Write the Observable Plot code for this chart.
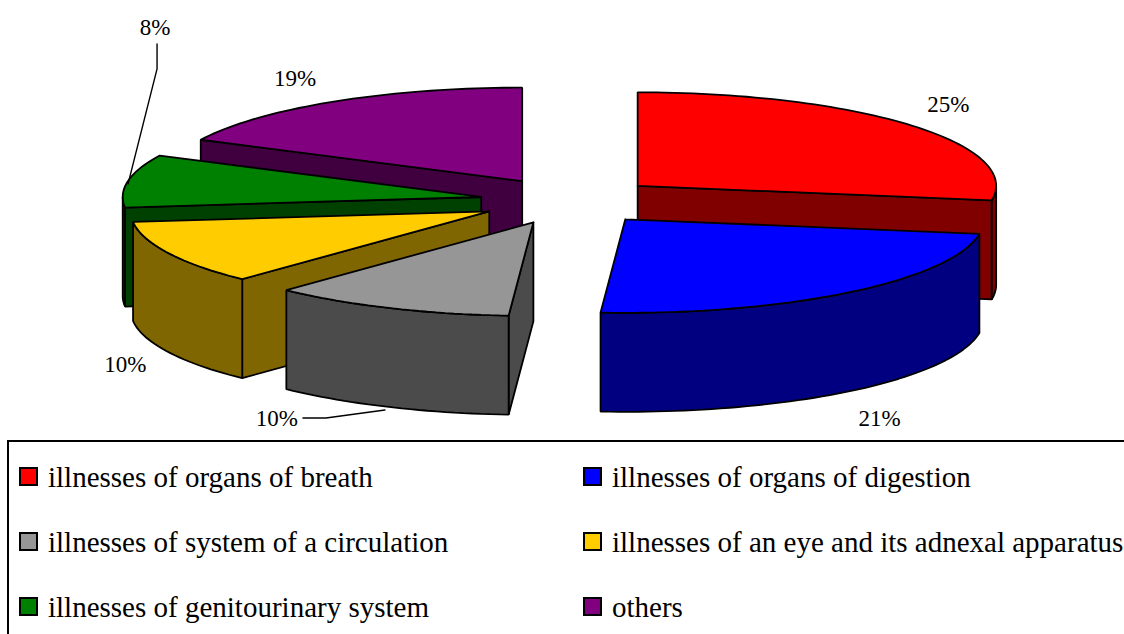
<!DOCTYPE html>
<html><head><meta charset="utf-8">
<script src="https://cdn.jsdelivr.net/npm/d3@7"></script>
<script src="https://cdn.jsdelivr.net/npm/@observablehq/plot@0.6"></script>
<style>
html,body{margin:0;padding:0;background:#fff;width:1124px;height:634px;overflow:hidden}
#chart svg{display:block}
#legend{position:absolute;left:7px;top:440px;width:1200px;height:300px;border:2px solid #000;box-sizing:border-box;font-family:"Liberation Serif",serif;font-size:29px;color:#000}
.it{position:absolute;white-space:nowrap;line-height:32px;height:32px}
.sw{position:absolute;left:0;top:6px;width:19px;height:19px;box-sizing:border-box;border:2px solid #000}
.tx{position:absolute;left:29px;top:0}
</style></head><body>
<div id="chart"></div><div id="legend"></div>
<script>
const categories = ["illnesses of organs of breath","illnesses of organs of digestion","illnesses of system of a circulation","illnesses of an eye and its adnexal apparatus","illnesses of genitourinary system","others"];
const percentLabels = [25,21,10,10,8,19];
const shares = [27.5,23.6,11.0,11.1,9.1,17.7];
const topColors = ["#ff0000","#0000ff","#969696","#ffcc00","#008000","#800080"];
const sideColors = ["#800000","#000080","#4b4b4b","#806600","#004000","#400040"];

const pie = {cx:569, cy:200.5, rx:358.5, ry:93.5, explode:0.25, depth:99};
const labelOffset = [[38,-20],[31,126],[-112,111],[-43,112],[27,-153],[-38,-23]];
const rad = a => a*Math.PI/180;
const cum = d3.cumsum(shares);
const total = d3.sum(shares);
const slices = shares.map((s,i)=>{
  const t0=(cum[i]-s)/total*360, t1=cum[i]/total*360, m=(t0+t1)/2;
  const ax=pie.cx+pie.explode*pie.rx*Math.sin(rad(m)), ay=pie.cy-pie.explode*pie.ry*Math.cos(rad(m));
  const at=t=>({x:ax+pie.rx*Math.sin(rad(t)), y:ay-pie.ry*Math.cos(rad(t))});
  return {i,t0,t1,m,apex:{x:ax,y:ay},at};
});
const down=p=>({x:p.x,y:p.y+pie.depth});
const arc=(s,a,b)=>{const n=Math.max(2,Math.ceil((b-a)/1.5));return d3.range(n+1).map(k=>s.at(a+(b-a)*k/n));};
const close=ps=>[...ps,ps[0]];
const polys=[];
for(const i of [5,0,4,3,2,1]){
  const s=slices[i];
  if(Math.sin(rad(s.t0))<0) polys.push({fill:sideColors[i],pts:close([s.apex,s.at(s.t0),down(s.at(s.t0)),down(s.apex)])});
  if(Math.sin(rad(s.t1))>0) polys.push({fill:sideColors[i],pts:close([s.apex,s.at(s.t1),down(s.at(s.t1)),down(s.apex)])});
  const a=Math.max(s.t0,90),b=Math.min(s.t1,270);
  if(b>a){const top=arc(s,a,b);polys.push({fill:sideColors[i],pts:close([...top,...top.slice().reverse().map(down)])});}
  polys.push({fill:topColors[i],pts:close([s.apex,...arc(s,s.t0,s.t1)])});
}
const labels=slices.map((s,i)=>{const p=s.at(s.m);return {x:p.x+labelOffset[i][0],y:p.y+labelOffset[i][1],text:percentLabels[i]+"%"};});
const gm=slices[4].at(slices[4].m), ym=down(slices[2].at(slices[2].m));
const leaders=[
  [{x:labels[4].x+2,y:labels[4].y+16},{x:labels[4].x+2,y:labels[4].y+41},{x:gm.x,y:gm.y+3}],
  [{x:labels[2].x+26,y:labels[2].y-1},{x:labels[2].x+49,y:labels[2].y-1},{x:ym.x-4,y:ym.y+3}]
];
const plot=Plot.plot({
  width:1124,height:440,margin:0,
  x:{domain:[0,1124],range:[0,1124],axis:null},
  y:{domain:[0,440],range:[0,440],axis:null},
  marks:[
    ...polys.map(p=>Plot.line(p.pts,{x:"x",y:"y",fill:p.fill,stroke:"#000",strokeWidth:1.8,strokeLinejoin:"miter"})),
    ...leaders.map(l=>Plot.line(l,{x:"x",y:"y",stroke:"#000",strokeWidth:1.4})),
    Plot.text(labels,{x:"x",y:"y",text:"text",fontSize:23,fontFamily:"Liberation Serif",fill:"#000"})
  ],
  style:{background:"#fff",overflow:"visible"}
});
document.getElementById("chart").append(plot);
const lg=document.getElementById("legend");
categories.forEach((c,i)=>{
  const it=document.createElement("div");it.className="it";
  it.style.left=(i%2?574:10)+"px";
  it.style.top=(19+Math.floor(i/2)*65)+"px";
  const sw=document.createElement("span");sw.className="sw";sw.style.background=topColors[i];
  const tx=document.createElement("span");tx.className="tx";tx.textContent=c;
  it.append(sw,tx);lg.append(it);
});
</script></body></html>
